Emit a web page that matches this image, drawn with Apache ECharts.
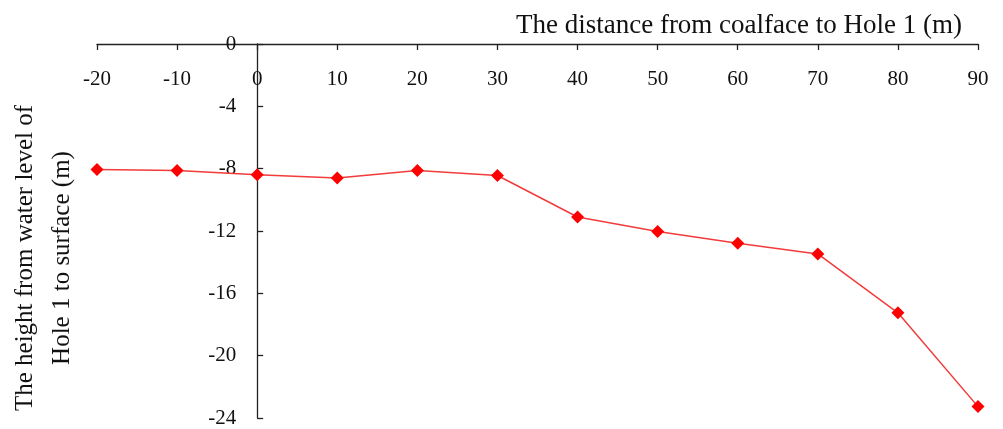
<!DOCTYPE html>
<html>
<head>
<meta charset="utf-8">
<script src="https://cdn.jsdelivr.net/npm/echarts@6/dist/echarts.min.js"></script>
<style>
  html, body { margin: 0; padding: 0; background: #fff; }
  #chart { width: 1003px; height: 429px; }
</style>
</head>
<body>
<div id="chart"></div>
<script>
// Distance from coalface to Hole 1 (m)
const distances = [-20, -10, 0, 10, 20, 30, 40, 50, 60, 70, 80, 90];
// Height from water level of Hole 1 to surface (m)
const waterHeights = [-8.05, -8.12, -8.39, -8.6, -8.12, -8.44, -11.1, -12.03, -12.78, -13.47, -17.25, -23.27];

const xTitle = 'The distance from coalface to Hole 1 (m)';
const yTitleLines = ['The height from water level of', 'Hole 1 to surface (m)'];

const serif = '"Liberation Serif", "DejaVu Serif", serif';
const axisColor = '#222';

const gridLeft = 97, gridRight = 25;
const chartWidth = 1003;
const xMin = -20, xMax = 90;
// The vertical axis crosses the horizontal one at distance 0
const yAxisShift = (0 - xMin) / (xMax - xMin) * (chartWidth - gridLeft - gridRight);

const chart = echarts.init(document.getElementById('chart'), null, { renderer: 'canvas' });

chart.setOption({
  animation: false,
  backgroundColor: '#fff',
  grid: { left: gridLeft, right: gridRight, top: 44, bottom: 11, containLabel: false },
  xAxis: {
    type: 'value',
    position: 'top',
    min: xMin,
    max: xMax,
    interval: 10,
    name: xTitle,
    nameLocation: 'end',
    nameGap: 0,
    nameTextStyle: {
      fontFamily: serif, fontSize: 27, color: '#111',
      align: 'right', verticalAlign: 'bottom', padding: [0, 16, 5, 0]
    },
    axisLine: { onZero: false, lineStyle: { color: axisColor, width: 1.3 } },
    axisTick: { inside: true, length: 6, lineStyle: { color: axisColor, width: 1.3 } },
    axisLabel: { inside: true, margin: 25, fontFamily: serif, fontSize: 21, color: '#111' },
    splitLine: { show: false }
  },
  yAxis: {
    type: 'value',
    position: 'left',
    offset: -yAxisShift,
    min: -24,
    max: 0,
    interval: 4,
    axisLine: { onZero: false, lineStyle: { color: axisColor, width: 1.3 } },
    axisTick: { inside: true, length: 6, lineStyle: { color: axisColor, width: 1.3 } },
    axisLabel: { margin: 21, fontFamily: serif, fontSize: 21, color: '#111' },
    splitLine: { show: false }
  },
  graphic: [
    {
      type: 'text',
      x: 25, y: 258,
      rotation: Math.PI / 2,
      style: {
        text: yTitleLines[0],
        fontFamily: serif, fontSize: 25, fill: '#111',
        align: 'center', verticalAlign: 'middle'
      }
    },
    {
      type: 'text',
      x: 62, y: 258,
      rotation: Math.PI / 2,
      style: {
        text: yTitleLines[1],
        fontFamily: serif, fontSize: 25, fill: '#111',
        align: 'center', verticalAlign: 'middle'
      }
    }
  ],
  series: [{
    type: 'line',
    data: distances.map((d, i) => [d, waterHeights[i]]),
    symbol: 'diamond',
    symbolSize: 13,
    itemStyle: { color: '#ff0000' },
    lineStyle: { color: '#f23b3b', width: 1.5 }
  }]
});
</script>
</body>
</html>
